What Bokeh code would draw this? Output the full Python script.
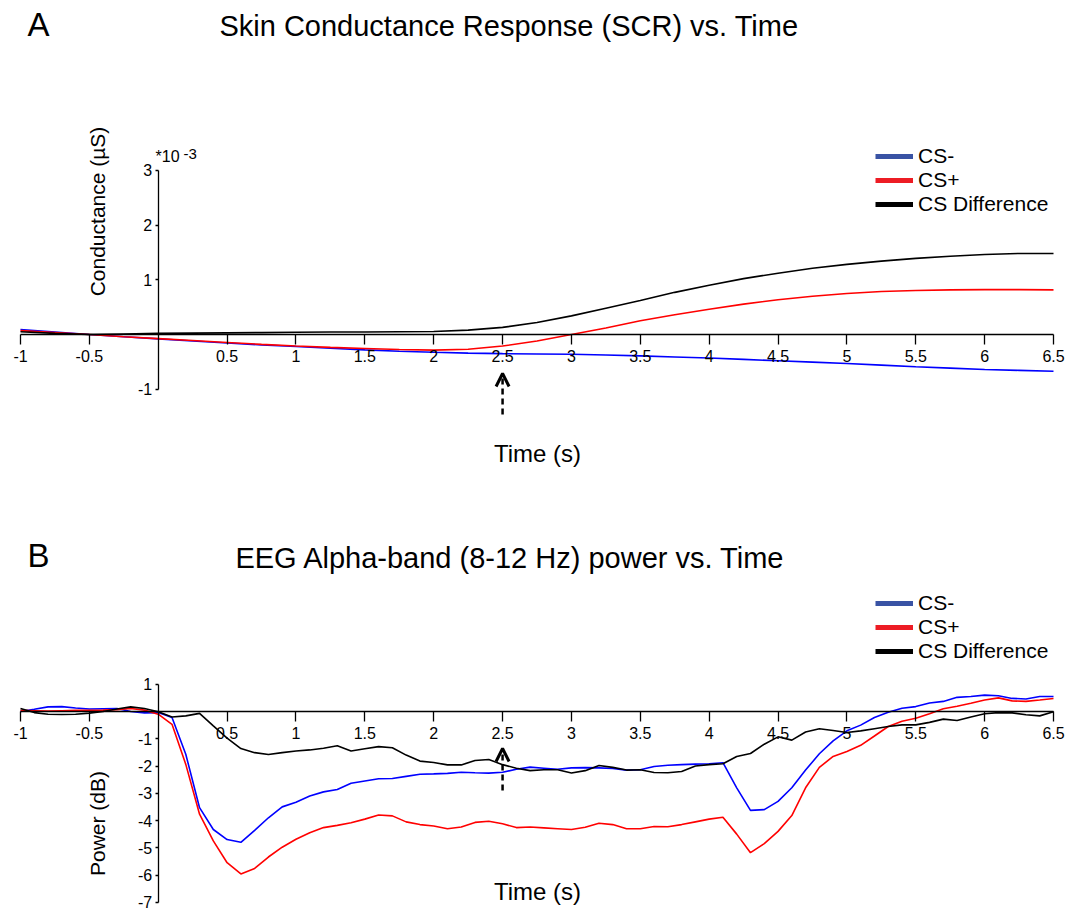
from bokeh.plotting import figure
from bokeh.models import (LinearAxis, FixedTicker, Range1d, CustomJSTickFormatter,
                          Arrow, OpenHead, Legend, LegendItem)
from bokeh.layouts import column
from bokeh.core.properties import value
from bokeh.embed import file_html
from bokeh.resources import INLINE

# ---------------- data ----------------
# Panel A : skin conductance (x10^-3 uS), sampled every 0.25 s
time_a = [-1.0, -0.75, -0.5, -0.25, 0.0, 0.25, 0.5, 0.75, 1.0, 1.25, 1.5, 1.75, 2.0, 2.25,
          2.5, 2.75, 3.0, 3.25, 3.5, 3.75, 4.0, 4.25, 4.5, 4.75, 5.0, 5.25, 5.5, 5.75, 6.0,
          6.25, 6.5]
scr_cs_minus = [0.09, 0.045, 0.0, -0.04, -0.08, -0.118, -0.155, -0.19, -0.22, -0.25, -0.28,
                -0.305, -0.325, -0.34, -0.35, -0.355, -0.36, -0.375, -0.39, -0.41, -0.43,
                -0.455, -0.48, -0.505, -0.53, -0.56, -0.59, -0.615, -0.64, -0.655, -0.67]
scr_cs_plus = [0.07, 0.035, 0.0, -0.04, -0.075, -0.11, -0.145, -0.18, -0.21, -0.235, -0.255,
               -0.275, -0.285, -0.27, -0.21, -0.12, 0.0, 0.12, 0.25, 0.36, 0.46, 0.555, 0.635,
               0.70, 0.75, 0.785, 0.805, 0.815, 0.82, 0.82, 0.815]
scr_cs_diff = [0.05, 0.02, 0.0, 0.01, 0.02, 0.025, 0.03, 0.035, 0.04, 0.045, 0.045, 0.05, 0.055,
               0.08, 0.13, 0.22, 0.34, 0.48, 0.62, 0.77, 0.90, 1.02, 1.12, 1.21, 1.28, 1.34,
               1.39, 1.43, 1.46, 1.48, 1.48]

# Panel B : EEG alpha power (dB), sampled every 0.1 s
time_b = [-1.0, -0.9, -0.8, -0.7, -0.6, -0.5, -0.4, -0.3, -0.2, -0.1, 0.0, 0.1, 0.2, 0.3, 0.4,
          0.5, 0.6, 0.7, 0.8, 0.9, 1.0, 1.1, 1.2, 1.3, 1.4, 1.5, 1.6, 1.7, 1.8, 1.9, 2.0, 2.1,
          2.2, 2.3, 2.4, 2.5, 2.6, 2.7, 2.8, 2.9, 3.0, 3.1, 3.2, 3.3, 3.4, 3.5, 3.6, 3.7, 3.8,
          3.9, 4.0, 4.1, 4.2, 4.3, 4.4, 4.5, 4.6, 4.7, 4.8, 4.9, 5.0, 5.1, 5.2, 5.3, 5.4, 5.5,
          5.6, 5.7, 5.8, 5.9, 6.0, 6.1, 6.2, 6.3, 6.4, 6.5]
eeg_cs_minus = [0.0, 0.08, 0.17, 0.18, 0.13, 0.09, 0.10, 0.11, 0.0, -0.05, -0.04, -0.22, -1.57,
                -3.53, -4.33, -4.70, -4.80, -4.36, -3.90, -3.50, -3.33, -3.10, -2.95, -2.86,
                -2.63, -2.55, -2.47, -2.46, -2.38, -2.30, -2.29, -2.27, -2.23, -2.25, -2.26,
                -2.23, -2.12, -2.04, -2.08, -2.12, -2.07, -2.06, -2.07, -2.09, -2.15, -2.14,
                -2.02, -1.97, -1.95, -1.93, -1.92, -1.88, -2.80, -3.63, -3.60, -3.30, -2.80,
                -2.15, -1.55, -1.08, -0.71, -0.50, -0.22, -0.03, 0.12, 0.18, 0.31, 0.37, 0.52,
                0.55, 0.60, 0.58, 0.48, 0.46, 0.55, 0.55]
eeg_cs_plus = [0.04, 0.03, 0.02, 0.03, 0.04, 0.04, 0.05, 0.07, 0.11, 0.05, -0.10, -0.47, -1.94,
               -3.77, -4.75, -5.55, -5.96, -5.76, -5.34, -4.98, -4.69, -4.45, -4.26, -4.18,
               -4.08, -3.95, -3.80, -3.83, -4.05, -4.15, -4.20, -4.30, -4.24, -4.07, -4.03,
               -4.12, -4.26, -4.24, -4.27, -4.30, -4.33, -4.25, -4.10, -4.15, -4.30, -4.30,
               -4.22, -4.23, -4.15, -4.05, -3.95, -3.88, -4.50, -5.18, -4.85, -4.40, -3.82,
               -2.80, -2.05, -1.65, -1.47, -1.24, -0.90, -0.55, -0.36, -0.25, -0.08, 0.10,
               0.19, 0.30, 0.42, 0.50, 0.39, 0.37, 0.42, 0.48]
eeg_cs_diff = [0.11, -0.04, -0.10, -0.11, -0.10, -0.06, 0.0, 0.09, 0.17, 0.11, -0.01, -0.20,
               -0.16, -0.07, -0.53, -0.98, -1.36, -1.51, -1.58, -1.51, -1.45, -1.41, -1.35,
               -1.26, -1.45, -1.37, -1.29, -1.33, -1.60, -1.82, -1.87, -1.96, -1.96, -1.80,
               -1.76, -1.95, -2.08, -2.17, -2.14, -2.14, -2.26, -2.17, -1.98, -2.05, -2.15,
               -2.14, -2.24, -2.25, -2.20, -2.00, -1.95, -1.92, -1.65, -1.54, -1.20, -0.93,
               -1.05, -0.75, -0.63, -0.70, -0.77, -0.71, -0.63, -0.55, -0.49, -0.49, -0.40,
               -0.28, -0.33, -0.20, -0.08, -0.04, -0.05, -0.12, -0.16, -0.01]

x_ticks = [-1, -0.5, 0.5, 1, 1.5, 2, 2.5, 3, 3.5, 4, 4.5, 5, 5.5, 6, 6.5]
y_ticks_a = [-1, 1, 2, 3]
y_ticks_b = [-7, -6, -5, -4, -3, -2, -1, 1]
series_names = ["CS-", "CS+", "CS Difference"]
line_colors = ["#0000ff", "#ff0000", "#000000"]
legend_colors = ["#3953a4", "#ed1c24", "#000000"]
stimulus_time = 2.5

# ---------------- layout helpers (screen px -> data) ----------------
W = 1071
HA, HB = 490, 421
PXU = 1033 / 7.5            # px per second
A0, AU = 334.0, 54.75       # panel A: screen y of zero, px per unit
B0, BU = 711.0, 27.25       # panel B
TOP_B = HA
NAN = float("nan")

def sx(px):
    return -1 + (px - 20) / PXU

def sya(py):
    return (A0 - py) / AU

def syb(py):
    return (B0 - py) / BU

FONT = "Liberation Sans"


def make_fig(h, y0, y1):
    p = figure(width=W, height=h, output_backend="svg", toolbar_location=None,
               x_range=Range1d(sx(0), sx(W)), y_range=Range1d(y0, y1),
               x_axis_location=None, y_axis_location=None, min_border=0,
               background_fill_color="white", border_fill_color="white")
    p.outline_line_color = None
    p.xgrid.visible = False
    p.ygrid.visible = False
    return p


def add_axes(p, yticks, ybounds):
    xa = LinearAxis(fixed_location=0, ticker=FixedTicker(ticks=x_ticks), bounds=(-1, 6.5),
                    formatter=CustomJSTickFormatter(code="return tick.toString();"))
    ya = LinearAxis(fixed_location=0, ticker=FixedTicker(ticks=yticks), bounds=ybounds,
                    formatter=CustomJSTickFormatter(code="return tick.toString();"))
    for ax, tout, st in ((xa, 10, 5), (ya, 3, 3)):
        ax.axis_line_color = "black"
        ax.axis_line_width = 1.3
        ax.major_tick_line_color = "black"
        ax.major_tick_line_width = 1.3
        ax.major_tick_out = tout
        ax.major_tick_in = 0
        ax.minor_tick_line_color = None
        ax.major_label_text_font = FONT
        ax.major_label_text_font_size = "16px"
        ax.major_label_text_color = "black"
        ax.major_label_standoff = st
    p.add_layout(xa, "below")
    p.add_layout(ya, "left")


def add_text(p, x, y, t, size, align="left", angle=0.0):
    p.text(x=[x], y=[y], text=[t], text_font=value(FONT), text_font_size=size,
           text_align=align, text_baseline="middle", angle=angle, text_color="black")


def add_legend(p, h, top_row_y):
    items = []
    for name, c in zip(series_names, legend_colors):
        r = p.line(x=[NAN, NAN], y=[NAN, NAN], line_color=c, line_width=5)
        items.append(LegendItem(label=name, renderers=[r]))
    leg = Legend(items=items, location=(875, h - (top_row_y + 2 * 23.5 + 11.5)),
                 glyph_width=38, glyph_height=20, label_height=20, label_standoff=5,
                 spacing=0, padding=0, margin=0, border_line_color=None,
                 background_fill_alpha=0, label_text_font=FONT, label_text_font_size="21px",
                 label_text_color="black")
    p.add_layout(leg)


def add_arrow(p, y_tail, y_tip):
    p.add_layout(Arrow(end=OpenHead(size=13, line_width=3, line_color="black"),
                       x_start=stimulus_time, y_start=y_tail, x_end=stimulus_time,
                       y_end=y_tip, line_width=2.5, line_dash="6 4", line_color="black"))


# ---------------- panel A ----------------
pa = make_fig(HA, sya(HA), sya(0))
add_axes(pa, y_ticks_a, (-1, 3))
for ys, c in zip([scr_cs_minus, scr_cs_plus, scr_cs_diff], line_colors):
    pa.line(time_a, ys, line_color=c, line_width=1.6)
add_arrow(pa, sya(414), sya(373))
add_text(pa, sx(27), sya(24), "A", "33px")
add_text(pa, sx(508.5), sya(25), "Skin Conductance Response (SCR) vs. Time", "29px", "center")
add_text(pa, sx(97), sya(211), "Conductance (µS)", "21px", "center", 1.5708)
add_text(pa, sx(155), sya(156), "*10", "16px")
add_text(pa, sx(183), sya(153), "-3", "15px")
add_text(pa, sx(537), sya(453), "Time (s)", "24px", "center")
add_legend(pa, HA, 157)

# ---------------- panel B ----------------
pb = make_fig(HB, syb(TOP_B + HB), syb(TOP_B))
add_axes(pb, y_ticks_b, (-7, 1))
for ys, c in zip([eeg_cs_minus, eeg_cs_plus, eeg_cs_diff], line_colors):
    pb.line(time_b, ys, line_color=c, line_width=1.6)
add_arrow(pb, syb(790), syb(748))
add_text(pb, sx(27), syb(555), "B", "33px")
add_text(pb, sx(510), syb(557), "EEG Alpha-band (8-12 Hz) power vs. Time", "29px", "center")
add_text(pb, sx(97), syb(823), "Power (dB)", "21px", "center", 1.5708)
add_text(pb, sx(537), syb(891), "Time (s)", "24px", "center")
add_legend(pb, HB, 604 - TOP_B)

layout = column(pa, pb, spacing=0)
open("out.html", "w").write(file_html(layout, INLINE))
